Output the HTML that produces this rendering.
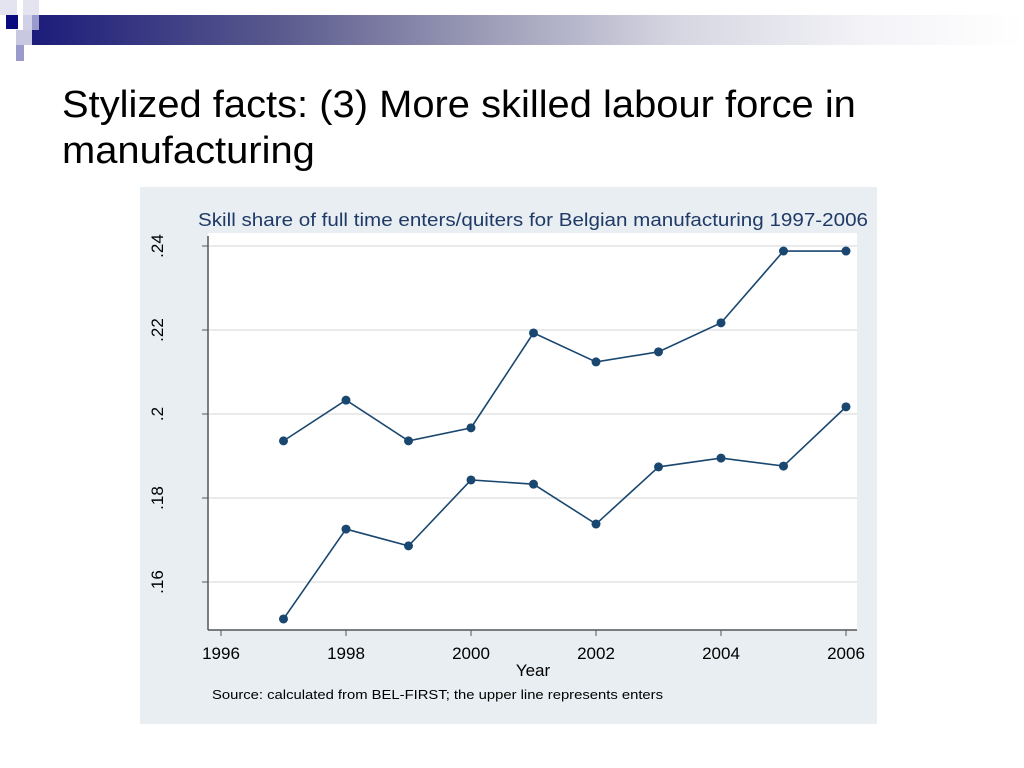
<!DOCTYPE html>
<html><head><meta charset="utf-8"><style>
body{margin:0;width:1024px;height:768px;background:#fff;overflow:hidden;font-family:"Liberation Sans",sans-serif;position:relative}
.abs{position:absolute}
</style></head><body>
<div class="abs" style="left:32px;top:15px;width:992px;height:30px;background:linear-gradient(90deg,#1c1c7a 0%,#5a5a8e 25%,#9a9ab6 45%,#d6d6e2 65%,#f4f4f8 85%,#fff 100%)"></div>
<div class="abs" style="left:6px;top:15px;width:12px;height:14px;background:#0a0a80"></div>
<div class="abs" style="left:0;top:0;width:17px;height:15px;background:#e4e4f0"></div>
<div class="abs" style="left:23px;top:0;width:16px;height:15px;background:#e4e4f0"></div>
<div class="abs" style="left:23px;top:15px;width:9px;height:15px;background:#d0d0e6"></div>
<div class="abs" style="left:32px;top:15px;width:7px;height:15px;background:#9a9acc"></div>
<div class="abs" style="left:16px;top:30px;width:16px;height:15px;background:#c8c8e0"></div>
<div class="abs" style="left:16px;top:45px;width:8px;height:16px;background:#9a9acc"></div>
<div class="abs" style="left:62px;top:82px;font-size:38px;line-height:46px;color:#000;transform:scaleX(1.05);transform-origin:0 0;white-space:nowrap">Stylized facts: (3) More skilled labour force in<br>manufacturing</div>
<svg class="abs" style="left:0;top:0" width="1024" height="768">
<rect x="140" y="187" width="737" height="537" fill="#e8eef2"/>
<rect x="208" y="233" width="649" height="397" fill="#fff"/>
<text x="198" y="226" textLength="670" lengthAdjust="spacingAndGlyphs" font-size="18" fill="#1f3a66" font-family="Liberation Sans">Skill share of full time enters/quiters for Belgian manufacturing 1997-2006</text>
<g id="grid"></g><g id="axes"></g><g id="series"></g>
<text x="533" y="676" text-anchor="middle" font-size="17" font-family="Liberation Sans">Year</text>
<text x="212" y="699" textLength="451" lengthAdjust="spacingAndGlyphs" font-size="13" font-family="Liberation Sans">Source: calculated from BEL-FIRST; the upper line represents enters</text>
</svg>
<script>
const years=[1997,1998,1999,2000,2001,2002,2003,2004,2005,2006];
const enters=[0.1936,0.2033,0.1936,0.1967,0.2193,0.2124,0.2148,0.2217,0.2388,0.2388];
const quitters=[0.1512,0.1726,0.1686,0.1843,0.1833,0.1738,0.1874,0.1895,0.1876,0.2017];
const yTicks=[0.16,0.18,0.2,0.22,0.24];
const yLabels=[".16",".18",".2",".22",".24"];
const xTicks=[1996,1998,2000,2002,2004,2006];
const NS='http://www.w3.org/2000/svg';
const xs=v=>221+(v-1996)*62.5;
const ys=v=>246+(0.24-v)*4200;
function mk(tag,attrs,parent){const e=document.createElementNS(NS,tag);for(const k in attrs)e.setAttribute(k,attrs[k]);document.getElementById(parent).appendChild(e);return e;}
yTicks.forEach((t,i)=>{
  const g=mk('line',{x1:208,x2:857,y1:ys(t),y2:ys(t),stroke:'#eaeaea','stroke-width':2},'grid');
  
  
  const tk=mk('line',{x1:202,x2:208,y1:ys(t),y2:ys(t),stroke:'#555','stroke-width':1},'axes');
  
  
  const tx=mk('text',{x:0,y:0,transform:`translate(163,${ys(t)}) rotate(-90)`,'text-anchor':'middle','font-size':17,'font-family':'Liberation Sans'},'axes');
  tx.textContent=yLabels[i];
  
  
});
const ya=mk('line',{x1:208,x2:208,y1:236,y2:630,stroke:'#555','stroke-width':1.5},'axes');


const xa=mk('line',{x1:208,x2:857,y1:630,y2:630,stroke:'#555','stroke-width':1.5},'axes');


xTicks.forEach(t=>{
  const tk=mk('line',{x1:xs(t),x2:xs(t),y1:630,y2:636,stroke:'#555'},'axes');
  
  
  const tx=mk('text',{x:xs(t),y:659,'text-anchor':'middle','font-size':17,'font-family':'Liberation Sans'},'axes');
  tx.textContent=t;
  
  
});
[[enters,'enters'],[quitters,'quitters']].forEach(([vals,nm])=>{
  const p=mk('polyline',{points:years.map((y,i)=>xs(y)+','+ys(vals[i])).join(' '),fill:'none',stroke:'#1a476f','stroke-width':1.6},'series');
  
  
  years.forEach((y,i)=>{
    const c=mk('circle',{cx:xs(y),cy:ys(vals[i]),r:4.5,fill:'#1a476f'},'series');
    
    
  });
});
</script>
</body></html>
